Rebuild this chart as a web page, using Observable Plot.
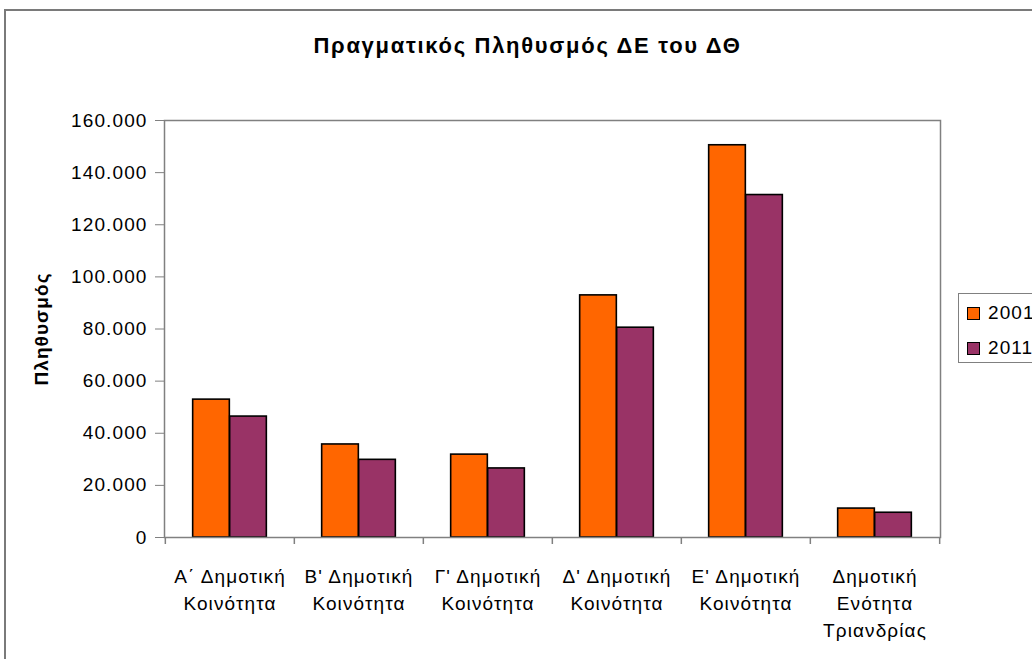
<!DOCTYPE html>
<html>
<head>
<meta charset="utf-8">
<script src="https://cdn.jsdelivr.net/npm/d3@7"></script>
<script src="https://cdn.jsdelivr.net/npm/@observablehq/plot@0.6"></script>
<style>
  html, body { margin: 0; padding: 0; background: #fff; }
  #chart { position: relative; width: 1032px; height: 659px; overflow: hidden; background: #fff;
           font-family: "Liberation Sans", Arial, sans-serif; }
  #outer { position: absolute; left: 4px; top: 9px; width: 1100px; height: 700px;
           border-top: 2px solid #7a7a7a; border-left: 2px solid #7a7a7a; }
  #title { position: absolute; left: 0; top: 35px; width: 1055px; text-align: center;
           font-weight: bold; font-size: 22px; line-height: 21px; letter-spacing: 1.7px; color: #000; }
  #plot { position: absolute; left: 0; top: 0; }
  #legend { position: absolute; left: 958px; top: 293px; width: 120px; height: 68px;
            border: 1px solid #808080; background: #fff; }
  .item { position: absolute; left: 8px; height: 20px; display: flex; align-items: center;
          font-size: 19px; letter-spacing: 1.1px; color: #000; }
  .sw { width: 11px; height: 11px; border: 1px solid #000; margin-right: 8px; }
</style>
</head>
<body>
<div id="chart">
  <div id="outer"></div>
  <div id="plot"></div>
  <div id="title"></div>
  <div id="legend"></div>
</div>
<script>
// Municipal communities of Thessaloniki (labels broken over lines)
const categories = [
  "Α΄ Δημοτική\nΚοινότητα",
  "Β' Δημοτική\nΚοινότητα",
  "Γ' Δημοτική\nΚοινότητα",
  "Δ' Δημοτική\nΚοινότητα",
  "Ε' Δημοτική\nΚοινότητα",
  "Δημοτική\nΕνότητα\nΤριανδρίας"
];
const years = ["2001", "2011"];
const pop2001 = [52900, 35700, 31800, 92900, 150500, 11100];
const pop2011 = [46400, 29800, 26500, 80500, 131400, 9500];
const yTicks = [0, 20000, 40000, 60000, 80000, 100000, 120000, 140000, 160000];
const seriesColors = ["#FF6600", "#993366"];
const titleText = "Πραγματικός Πληθυσμός ΔΕ του ΔΘ";
const yLabel = "Πληθυσμός";

const rows2001 = categories.map((c, i) => ({category: c, year: years[0], value: pop2001[i]}));
const rows2011 = categories.map((c, i) => ({category: c, year: years[1], value: pop2011[i]}));

const W = 1032, H = 659;
const mL = 164, mR = 92, mT = 120, mB = 122;
const band = (W - mL - mR) / categories.length;
const barW = 37;
const outerGap = (band - 2 * barW) / 2;
const plotH = H - mT - mB;

const greek = d3.formatLocale({decimal: ",", thousands: ".", grouping: [3], currency: ["", " €"]});
const fmt = greek.format(",d");

const chart = Plot.plot({
  width: W,
  height: H,
  marginLeft: mL,
  marginRight: mR,
  marginTop: mT,
  marginBottom: mB,
  style: {fontFamily: "'Liberation Sans', Arial, sans-serif", fontSize: "19px", letterSpacing: "1.1px", color: "#000", background: "transparent"},
  x: {domain: categories, padding: 0},
  y: {domain: [0, 160000]},
  marks: [
    Plot.barY(rows2001, {x: "category", y: "value", fill: seriesColors[0], stroke: "#000", strokeWidth: 1.6,
      insetLeft: outerGap, insetRight: band / 2}),
    Plot.barY(rows2011, {x: "category", y: "value", fill: seriesColors[1], stroke: "#000", strokeWidth: 1.6,
      insetLeft: band / 2, insetRight: outerGap}),
    Plot.frame({stroke: "#808080", strokeWidth: 1.5}),
    Plot.axisY({ticks: yTicks, tickFormat: fmt, tickSize: 9, tickPadding: 8, stroke: "#808080", fill: "#000",
      fontSize: 19, label: null}),
    // category separators below the axis
    Plot.ruleX(categories, {x: d => d, dx: -band / 2, insetTop: plotH, insetBottom: -7, stroke: "#808080", strokeWidth: 1.5}),
    Plot.ruleX(categories.slice(-1), {x: d => d, dx: band / 2, insetTop: plotH, insetBottom: -7, stroke: "#808080", strokeWidth: 1.5}),
    Plot.axisX({tickSize: 0, tickPadding: 26, lineHeight: 1.42, fontSize: 19, fill: "#000", label: null}),
    Plot.text([yLabel], {frameAnchor: "left", textAnchor: "middle", dx: -123, rotate: -90,
      fontWeight: "bold", fontSize: 19, fill: "#000"})
  ]
});
document.getElementById("plot").appendChild(chart);

document.getElementById("title").textContent = titleText;

const legend = document.getElementById("legend");
years.forEach((y, i) => {
  const item = document.createElement("div");
  item.className = "item";
  item.style.top = (9 + i * 35) + "px";
  const sw = document.createElement("div");
  sw.className = "sw";
  sw.style.background = seriesColors[i];
  item.appendChild(sw);
  item.appendChild(document.createTextNode(y));
  legend.appendChild(item);
});
</script>
</body>
</html>
